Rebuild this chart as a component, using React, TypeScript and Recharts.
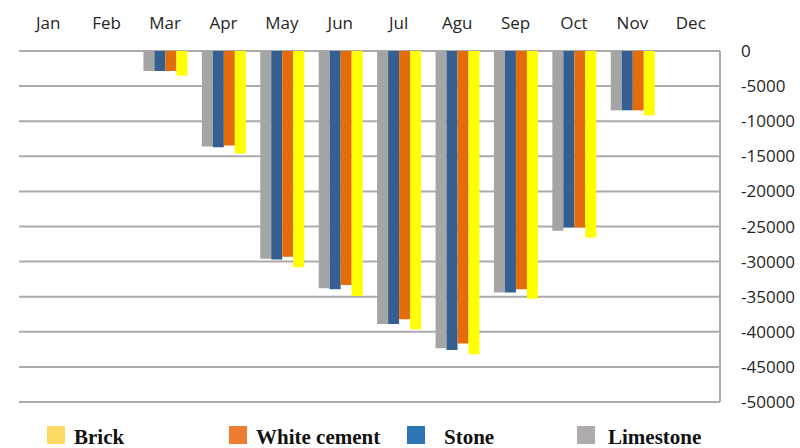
import React from 'react';
import { BarChart, Bar, XAxis, YAxis, CartesianGrid } from 'recharts';

const months = ['Jan', 'Feb', 'Mar', 'Apr', 'May', 'Jun', 'Jul', 'Agu', 'Sep', 'Oct', 'Nov', 'Dec'];
const limestone = [null, null, -2850, -13600, -29600, -33800, -38900, -42350, -34400, -25600, -8450, null];
const stone = [null, null, -2850, -13700, -29700, -33950, -38900, -42600, -34400, -25150, -8450, null];
const whiteCement = [null, null, -2850, -13450, -29300, -33350, -38200, -41650, -33950, -25150, -8450, null];
const brick = [null, null, -3500, -14600, -30800, -34900, -39650, -43200, -35300, -26550, -9170, null];
const yTicks = [0, -5000, -10000, -15000, -20000, -25000, -30000, -35000, -40000, -45000, -50000];

const data = months.map((m, i) => ({
  month: m,
  limestone: limestone[i],
  stone: stone[i],
  whiteCement: whiteCement[i],
  brick: brick[i],
}));

// legend swatch colours differ slightly from the bar colours in the original
const legendItems = [
  { name: 'Brick', color: '#FFD966', left: 47, textGap: 9 },
  { name: 'White cement', color: '#ED7D31', left: 229, textGap: 9 },
  { name: 'Stone', color: '#2E75B6', left: 407, textGap: 19 },
  { name: 'Limestone', color: '#AFABAB', left: 577, textGap: 13 },
];

const tickFont = { fontFamily: '"Open Sans", sans-serif', fontSize: 17, fill: '#262626' };

const App: React.FC = () => {
  return (
    <div style={{ position: 'absolute', left: 0, top: 0, width: 800, height: 448, background: '#fff' }}>
      <BarChart
        width={800}
        height={448}
        data={data}
        margin={{ top: 11, right: 0, left: 19, bottom: 46 }}
        barCategoryGap="13%"
        barGap={0}
      >
        <CartesianGrid vertical={false} stroke="#ABABAB" strokeWidth={2} />
        <XAxis
          dataKey="month"
          orientation="top"
          height={40}
          axisLine={false}
          tickLine={false}
          tickMargin={16}
          tick={tickFont}
          interval={0}
        />
        <YAxis
          orientation="right"
          width={80}
          domain={[-50000, 0]}
          ticks={yTicks}
          reversed={false}
          axisLine={{ stroke: '#ABABAB', strokeWidth: 2 }}
          tickLine={false}
          tickMargin={15}
          tick={tickFont}
          interval={0}
        />
        <Bar dataKey="limestone" fill="#A5A5A5" isAnimationActive={false} />
        <Bar dataKey="stone" fill="#355E91" isAnimationActive={false} />
        <Bar dataKey="whiteCement" fill="#E46C0A" isAnimationActive={false} />
        <Bar dataKey="brick" fill="#FFFF00" isAnimationActive={false} />
      </BarChart>
      {legendItems.map((it) => (
        <div
          key={it.name}
          style={{ position: 'absolute', left: it.left, top: 426, height: 18, display: 'flex', alignItems: 'center' }}
        >
          <div style={{ width: 18, height: 18, background: it.color }} />
          <span
            style={{
              marginLeft: it.textGap,
              fontFamily: '"Liberation Serif", serif',
              fontWeight: 'bold',
              fontSize: 21,
              color: '#111',
              whiteSpace: 'nowrap',
              lineHeight: '18px',
              position: 'relative',
              top: 2,
            }}
          >
            {it.name}
          </span>
        </div>
      ))}
    </div>
  );
};

export default App;
